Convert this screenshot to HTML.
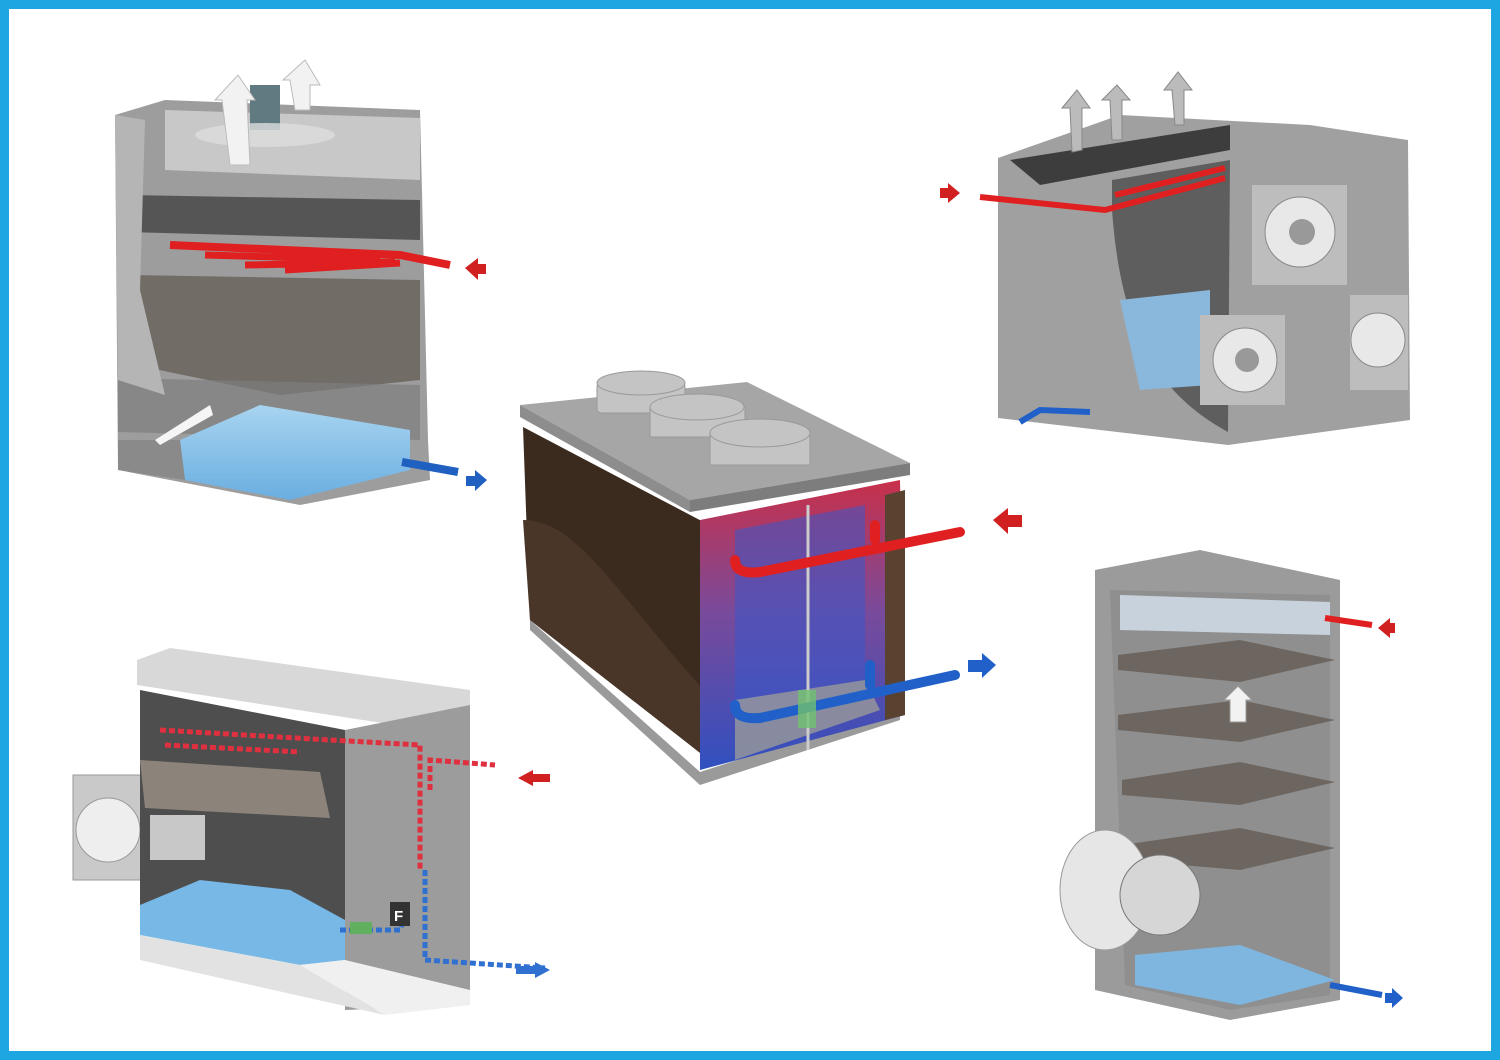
<!DOCTYPE html>
<html><head><meta charset="utf-8"><style>
html,body{margin:0;padding:0;background:#fff}
svg{display:block}
</style></head><body>
<svg width="1500" height="1060" viewBox="0 0 1500 1060" xmlns="http://www.w3.org/2000/svg">
<defs>
<linearGradient id="rb" x1="0" y1="0" x2="0" y2="1">
<stop offset="0" stop-color="#c8304a"/><stop offset="0.45" stop-color="#7a4a9a"/><stop offset="1" stop-color="#3050c0"/></linearGradient>
<linearGradient id="wat" x1="0" y1="0" x2="0" y2="1"><stop offset="0" stop-color="#a8d4f0"/><stop offset="1" stop-color="#6aaee0"/></linearGradient>
<linearGradient id="gr" x1="0" y1="0" x2="1" y2="0"><stop offset="0" stop-color="#8a8a8a"/><stop offset="1" stop-color="#b0b0b0"/></linearGradient>
</defs>
<rect x="0" y="0" width="1500" height="1060" fill="#1ea6e2"/>
<rect x="9" y="9" width="1482" height="1042" fill="#fff"/>

<!-- TOP LEFT TOWER -->
<polygon points="115,115 165,100 420,110 428,440 430,480 300,505 118,470" fill="#9d9d9d"/>
<polygon points="165,110 420,118 420,180 165,170" fill="#c8c8c8"/>
<polygon points="125,195 420,200 420,240 125,232" fill="#555"/>
<polygon points="130,275 420,280 420,380 280,395 135,365" fill="#716c66"/>
<polygon points="118,378 420,385 420,440 118,432" fill="#7d7d7d" opacity="0.7"/>
<polygon points="180,440 260,405 410,430 410,470 290,500 185,480" fill="url(#wat)"/>
<polygon points="118,440 180,440 185,480 118,470" fill="#8a8a8a"/>
<polygon points="115,115 145,120 140,290 165,395 118,380" fill="#b5b5b5"/>
<rect x="250" y="85" width="30" height="45" fill="#5f7a80"/>
<ellipse cx="265" cy="135" rx="70" ry="12" fill="#ddd" opacity="0.8"/>
<polygon points="230,165 222,100 215,100 238,75 255,100 247,100 250,165" fill="#f2f2f2" stroke="#bbb"/>
<polygon points="295,110 290,80 283,80 305,60 320,85 310,85 310,110" fill="#f2f2f2" stroke="#bbb"/>
<path d="M170 245 L400 255 L450 265" stroke="#e02020" stroke-width="8" fill="none"/>
<path d="M205 255 L380 260 M245 265 L395 262 M285 270 L400 263" stroke="#e02020" stroke-width="7" fill="none"/>
<polygon points="465,268 478,258 478,264 486,264 486,274 478,274 478,280" fill="#d02020"/>
<line x1="402" y1="462" x2="458" y2="472" stroke="#2060c0" stroke-width="8"/>
<polygon points="487,480 475,470 475,476 466,476 466,486 475,486 475,491" fill="#2060c0"/>
<polygon points="155,440 210,405 213,415 160,445" fill="#f5f5f5"/>

<!-- CENTER UNIT -->
<polygon points="530,630 700,785 900,720 900,708 700,772 530,620" fill="#9a9a9a"/>
<polygon points="523,427 713,527 713,763 530,620" fill="#3b2a1e"/>
<path d="M523 520 C580 520 620 600 713 700 L713 763 L530 620Z" fill="#4a3628"/>
<polygon points="700,520 900,480 905,715 700,770" fill="url(#rb)"/>
<polygon points="735,530 865,505 865,700 735,735" fill="#3a58c8" opacity="0.55"/>
<polygon points="735,700 865,680 880,710 735,760" fill="#9a9a9a" opacity="0.8"/>
<polygon points="885,495 905,490 905,715 885,720" fill="#5a4230"/>
<line x1="808" y1="505" x2="808" y2="750" stroke="#ccc" stroke-width="3"/>
<polygon points="520,405 747,382 910,463 690,500" fill="#a6a6a6"/>
<polygon points="520,405 690,500 690,512 520,417" fill="#8d8d8d"/>
<polygon points="690,500 910,463 910,475 690,512" fill="#7d7d7d"/>
<g fill="#c4c4c4" stroke="#999">
<rect x="597" y="383" width="88" height="30" rx="4"/><ellipse cx="641" cy="383" rx="44" ry="12"/>
<rect x="650" y="407" width="95" height="30"/><ellipse cx="697" cy="407" rx="47" ry="13"/>
<rect x="710" y="433" width="100" height="32"/><ellipse cx="760" cy="433" rx="50" ry="14"/>
</g>
<path d="M735 560 Q735 575 760 572 L960 532 M875 525 L875 540" stroke="#e02020" stroke-width="10" fill="none" stroke-linecap="round"/>
<path d="M735 705 Q735 720 760 718 L955 675 M870 665 L870 685" stroke="#2060c8" stroke-width="10" fill="none" stroke-linecap="round"/>
<rect x="798" y="690" width="18" height="38" fill="#70c070" opacity="0.8"/>
<polygon points="993,520 1008,508 1008,515 1022,515 1022,527 1008,527 1008,534" fill="#d02020"/>
<polygon points="996,665 982,653 982,660 968,660 968,672 982,672 982,678" fill="#2060c8"/>

<!-- TOP RIGHT -->
<polygon points="998,158 1120,115 1310,125 1408,140 1410,420 1228,445 998,418" fill="#a0a0a0"/>
<polygon points="1010,160 1230,125 1230,150 1040,185" fill="#3d3d3d"/>
<path d="M1112 210 C1120 320 1150 390 1228 432 L1230 160 L1112 180Z" fill="#5e5e5e"/>
<polygon points="1120,300 1210,290 1210,385 1140,390" fill="#8ab8dc"/>
<rect x="1252" y="185" width="95" height="100" fill="#bdbdbd"/>
<rect x="1350" y="295" width="58" height="95" fill="#bdbdbd"/>
<rect x="1200" y="315" width="85" height="90" fill="#bdbdbd"/>
<circle cx="1300" cy="232" r="35" fill="#e8e8e8" stroke="#888"/><circle cx="1302" cy="232" r="13" fill="#999"/>
<circle cx="1378" cy="340" r="27" fill="#e8e8e8" stroke="#888"/>
<circle cx="1245" cy="360" r="32" fill="#e8e8e8" stroke="#888"/><circle cx="1247" cy="360" r="12" fill="#999"/>
<path d="M980 197 L1105 210 L1225 178 M1115 195 L1225 168" stroke="#e02020" stroke-width="6" fill="none"/>
<polygon points="960,193 948,183 948,188 940,188 940,198 948,198 948,203" fill="#d02020"/>
<path d="M1090 412 L1040 410 L1020 422" stroke="#2060c8" stroke-width="6" fill="none"/>
<g fill="#bbb" stroke="#888">
<polygon points="1072,152 1070,108 1062,108 1077,90 1090,108 1082,108 1082,150"/>
<polygon points="1112,140 1110,100 1102,100 1117,85 1130,100 1122,100 1122,140"/>
<polygon points="1175,125 1172,90 1164,90 1178,72 1192,90 1184,90 1184,125"/>
</g>

<!-- BOTTOM RIGHT -->
<polygon points="1095,570 1200,550 1340,580 1340,1000 1230,1020 1095,990" fill="#9b9b9b"/>
<polygon points="1110,590 1330,595 1330,995 1230,1010 1125,985" fill="#8f8f8f"/>
<polygon points="1120,595 1330,602 1330,635 1120,630" fill="#c8d2dc"/>
<g fill="#6d6660">
<polygon points="1118,655 1240,640 1335,660 1240,682 1118,670"/>
<polygon points="1118,715 1240,700 1335,720 1240,742 1118,730"/>
<polygon points="1122,780 1240,762 1335,782 1240,805 1122,795"/>
<polygon points="1122,845 1240,828 1335,848 1240,870 1122,860"/>
</g>
<polygon points="1135,955 1240,945 1335,980 1240,1005 1135,985" fill="#7fb6e0"/>
<ellipse cx="1105" cy="890" rx="45" ry="60" fill="#e6e6e6" stroke="#999"/>
<circle cx="1160" cy="895" r="40" fill="#d6d6d6" stroke="#777"/>
<polygon points="1230,722 1230,700 1224,700 1238,686 1252,700 1246,700 1246,722" fill="#f2f2f2" stroke="#999"/>
<line x1="1325" y1="618" x2="1372" y2="625" stroke="#e02020" stroke-width="6"/>
<polygon points="1378,628 1390,618 1390,623 1395,623 1395,633 1390,633 1390,638" fill="#d02020"/>
<line x1="1330" y1="985" x2="1382" y2="995" stroke="#2060c8" stroke-width="6"/>
<polygon points="1403,998 1392,988 1392,993 1385,993 1385,1003 1392,1003 1392,1008" fill="#2060c8"/>

<!-- BOTTOM LEFT -->
<rect x="73" y="775" width="68" height="105" fill="#c9c9c9" stroke="#999"/>
<circle cx="108" cy="830" r="32" fill="#eee" stroke="#999"/>
<polygon points="137,660 170,648 470,690 470,705 395,725 137,685" fill="#d8d8d8"/>
<polygon points="140,690 345,730 345,940 140,925" fill="#4e4e4e"/>
<polygon points="345,730 470,705 470,1005 345,1010" fill="#9c9c9c"/>
<polygon points="140,760 320,772 330,818 145,808" fill="#8c847a"/>
<polygon points="140,905 200,880 290,890 345,920 345,960 300,965 140,935" fill="#78b8e6"/>
<polygon points="140,935 300,965 385,1015 140,960" fill="#e2e2e2"/>
<polygon points="300,965 345,960 470,990 470,1005 385,1015" fill="#f0f0f0"/>
<rect x="150" y="815" width="55" height="45" fill="#c8c8c8"/>
<path d="M160 730 L330 740 L420 745 L420 870 M430 790 L430 760 L495 765 M165 745 L300 752" stroke="#e03040" stroke-width="5" fill="none" stroke-dasharray="6 3"/>
<path d="M425 870 L425 960 L545 968 M340 930 L400 930 L405 915" stroke="#3070d0" stroke-width="5" fill="none" stroke-dasharray="6 3"/>
<rect x="390" y="902" width="20" height="24" fill="#333"/>
<text x="394" y="921" font-family="Liberation Sans, sans-serif" font-size="15" font-weight="bold" fill="#fff">F</text>
<rect x="350" y="922" width="22" height="12" fill="#60b060"/>
<polygon points="518,778 533,770 533,774 550,774 550,782 533,782 533,786" fill="#d02020"/>
<polygon points="550,970 535,962 535,966 516,966 516,974 535,974 535,978" fill="#3070d0"/>
</svg>
</body></html>
